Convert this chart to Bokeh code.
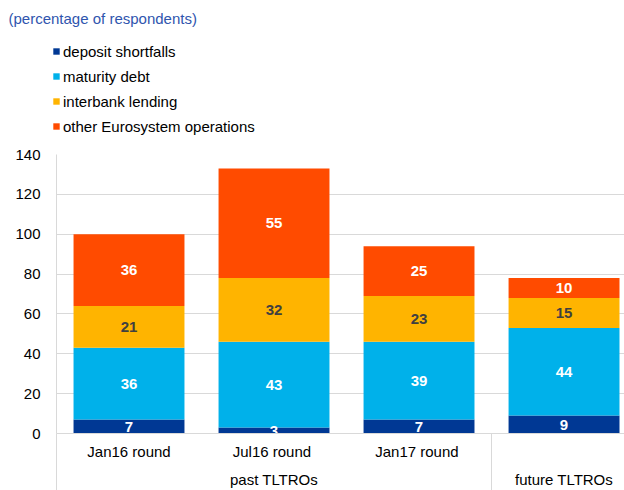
from bokeh.plotting import figure
from bokeh.layouts import column
from bokeh.models import Range1d, FixedTicker, Legend, LegendItem, ColumnDataSource, LinearAxis, Label
from bokeh.core.properties import value
from bokeh.embed import file_html
from bokeh.resources import INLINE

# ---- data ----
categories = ["Jan16 round", "Jul16  round", "Jan17  round", ""]
groups = ["past TLTROs", "future TLTROs"]
group_pos = [1, 3]
group_dividers = [-0.5, 2.5]
series = ["deposit shortfalls", "maturity debt", "interbank lending", "other Eurosystem operations"]
deposit = [7, 3, 7, 9]
maturity = [36, 43, 39, 44]
interbank = [21, 32, 23, 15]
other = [36, 55, 25, 10]
yticks = [0, 20, 40, 60, 80, 100, 120, 140]
title_text = "(percentage of respondents)"

colors = ["#003894", "#00B1EA", "#FFB400", "#FF4B00"]
label_colors = ["#FFFFFF", "#FFFFFF", "#404040", "#FFFFFF"]
FONT = "Liberation Sans"
FS = "15px"
GRID = "#D9D9D9"
W = 624
HEAD_H = 144

# ---- header: title + legend ----
head = figure(width=W, height=HEAD_H, output_backend="svg", toolbar_location=None,
              x_range=Range1d(0, W), y_range=Range1d(0, HEAD_H),
              x_axis_type=None, y_axis_type=None, min_border=0)
head.frame_align = False
head.outline_line_color = None
head.grid.visible = False
head.add_layout(Label(x=8, y=HEAD_H - 18, x_units="screen", y_units="screen", text=title_text,
                      text_align="left", text_baseline="middle",
                      text_font=FONT, text_font_size=FS, text_color="#2F55AE"))
proxies = [head.vbar(x=[-100000], top=[0], bottom=[0], width=1, color=c, line_color=None)
           for c in colors]
legend = Legend(items=[LegendItem(label=s, renderers=[r]) for s, r in zip(series, proxies)],
                location=(52, 9), glyph_width=8, glyph_height=8, label_height=18,
                label_standoff=3, spacing=7, padding=0, margin=0,
                border_line_color=None, background_fill_alpha=0,
                label_text_font=FONT, label_text_font_size=FS, label_text_color="#000000")
head.add_layout(legend, "center")

# ---- main chart ----
xs = list(range(len(categories)))
keys = ["s0", "s1", "s2", "s3"]
vals = [deposit, maturity, interbank, other]
source = ColumnDataSource(dict(x=xs, s0=deposit, s1=maturity, s2=interbank, s3=other))

p = figure(width=W, height=490 - HEAD_H, output_backend="svg", toolbar_location=None,
           x_range=Range1d(-0.5, 3.417), y_range=Range1d(0, 140),
           min_border_left=56, min_border_right=0, min_border_top=10, min_border_bottom=57)
p.outline_line_color = None

p.vbar_stack(keys, x="x", width=0.765, color=colors, line_color=None, source=source)

for si, sv in enumerate(vals):
    lx, ly, lt = [], [], []
    for ci in range(len(xs)):
        base = sum(vals[k][ci] for k in range(si))
        lx.append(xs[ci])
        ly.append(base + sv[ci] / 2)
        lt.append(str(sv[ci]))
    p.text(x=lx, y=ly, text=lt, text_align="center", text_baseline="middle",
           text_font=value(FONT), text_font_size=FS, text_font_style="bold",
           text_color=label_colors[si])

p.yaxis.ticker = FixedTicker(ticks=yticks)
p.yaxis.major_tick_line_color = None
p.yaxis.minor_tick_line_color = None
p.yaxis.axis_line_color = GRID
p.yaxis.major_label_standoff = 10
p.yaxis.major_label_text_font = FONT
p.yaxis.major_label_text_font_size = FS
p.yaxis.major_label_text_color = "#000000"

xa = p.xaxis[0]
xa.ticker = FixedTicker(ticks=[i for i, c in enumerate(categories) if c], minor_ticks=group_dividers)
xa.major_label_overrides = {i: c for i, c in enumerate(categories) if c}
xa.major_tick_line_color = None
xa.major_tick_out = 0
xa.major_tick_in = 0
xa.minor_tick_out = 0
xa.minor_tick_in = -57
xa.minor_tick_line_color = GRID
xa.axis_line_color = GRID
xa.major_label_standoff = 9
xa.major_label_text_font = FONT
xa.major_label_text_font_size = FS
xa.major_label_text_color = "#000000"

ga = LinearAxis(ticker=FixedTicker(ticks=group_pos, minor_ticks=[]),
                major_label_overrides={gx: g for g, gx in zip(groups, group_pos)})
ga.axis_line_color = None
ga.major_tick_line_color = None
ga.minor_tick_line_color = None
ga.major_tick_out = 0
ga.major_tick_in = 0
ga.major_label_standoff = 8
ga.major_label_text_font = FONT
ga.major_label_text_font_size = FS
ga.major_label_text_color = "#000000"
p.add_layout(ga, "below")

p.xgrid.grid_line_color = None
p.ygrid.grid_line_color = GRID
p.ygrid.ticker = FixedTicker(ticks=yticks)

layout = column(head, p, spacing=0)
open("out.html", "w").write(file_html(layout, INLINE))
